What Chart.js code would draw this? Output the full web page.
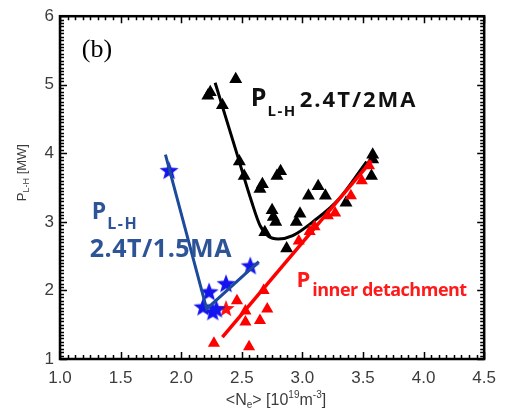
<!DOCTYPE html>
<html><head><meta charset="utf-8">
<script src="https://cdn.jsdelivr.net/npm/chart.js@4.4.1/dist/chart.umd.min.js"></script>
<style>html,body{margin:0;padding:0;background:#fff}</style>
</head><body>
<canvas id="c" width="505" height="412"></canvas>
<script>
// --- data ---
const xTicks = [1.0, 1.5, 2.0, 2.5, 3.0, 3.5, 4.0, 4.5];
const yTicks = [1, 2, 3, 4, 5, 6];

// P_L-H 2.4T/2MA (black triangles + fit)
const lh2X = [2.22,2.24,2.34,2.45,2.48,2.52,2.65,2.67,2.79,2.82,2.75,2.76,2.78,2.69,2.87,2.95,2.98,3.05,3.13,3.19,3.36,3.58,3.58,3.57];
const lh2Y = [4.84,4.89,4.70,5.08,3.88,3.67,3.48,3.55,3.67,3.74,3.17,3.07,3.00,2.85,2.61,3.00,3.12,3.38,3.52,3.38,3.28,3.98,3.91,3.67];
const lh2FitX = [2.28,2.45,2.58,2.65,2.72,2.80,2.92,3.10,3.30,3.53];
const lh2FitY = [5.03,4.05,3.30,2.95,2.79,2.75,2.80,3.02,3.33,3.88];

// P_L-H 2.4T/1.5MA (blue stars + fit)
const lh15X = [1.90,2.18,2.23,2.26,2.29,2.37,2.57];
const lh15Y = [3.74,1.75,1.97,1.68,1.72,2.09,2.35];
const lh15FitX = [1.87,2.21,2.64];
const lh15FitY = [3.98,1.73,2.42];

// P inner detachment (red triangles, red stars + fit)
const detX = [2.27,2.56,2.46,2.53,2.53,2.65,2.71,2.68,2.97,3.06,3.10,3.21,3.27,3.40,3.49,3.55];
const detY = [1.23,1.18,1.85,1.70,1.54,1.56,1.73,2.00,2.72,2.86,2.93,3.09,3.13,3.38,3.60,3.82];
const detStarX = [2.37];
const detStarY = [1.73];
const detFitX = [2.34,3.57];
const detFitY = [1.32,3.89];

const zip = (xs, ys) => xs.map((x,i)=>({x:x, y:ys[i]}));

function makeStar(r, color){
  const cv = document.createElement('canvas');
  cv.width = cv.height = 2*r+2;
  const g = cv.getContext('2d');
  g.fillStyle = color;
  g.beginPath();
  for(let i=0;i<10;i++){
    const rad = (i%2===0) ? r : r*0.42;
    const a = -Math.PI/2 + i*Math.PI/5;
    const px = r+1 + rad*Math.cos(a), py = r+1 + rad*Math.sin(a);
    i===0 ? g.moveTo(px,py) : g.lineTo(px,py);
  }
  g.closePath(); g.fill();
  return cv;
}

// draw text runs left to right (for sub/superscripts)
function rich(ctx, x, y, parts){
  let cx = x;
  parts.forEach(p=>{
    ctx.font = (p.w||'bold')+' '+p.s+'px '+(p.f||'"Open Sans"');
    ctx.fillStyle = p.c;
    ctx.letterSpacing = (p.ls||0)+'px';
    cx += (p.dx||0);
    ctx.fillText(p.t, cx, y+(p.dy||0));
    cx += ctx.measureText(p.t).width;
  });
  ctx.letterSpacing = '0px';
  return cx - x;
}
function richWidth(ctx, parts){
  let w = 0;
  parts.forEach(p=>{
    ctx.font = (p.w||'bold')+' '+p.s+'px '+(p.f||'"Open Sans"');
    ctx.letterSpacing = (p.ls||0)+'px';
    w += (p.dx||0) + ctx.measureText(p.t).width;
  });
  ctx.letterSpacing = '0px';
  return w;
}

const frame = {
  id:'frame',
  afterDraw(chart){
    const ctx = chart.ctx, a = chart.chartArea;
    const xs = chart.scales.x, ys = chart.scales.y;
    ctx.save();
    ctx.strokeStyle = '#000';
    // minor + major ticks on all four sides, pointing inward
    ctx.lineWidth = 1.5;
    ctx.beginPath();
    for(let i=0; i<=56; i++){
      const v = 1 + i*0.0625;
      const px = Math.round(xs.getPixelForValue(v))+0.5;
      const L = (i%8===0) ? 7 : 4;
      ctx.moveTo(px,a.bottom); ctx.lineTo(px,a.bottom-L);
      ctx.moveTo(px,a.top); ctx.lineTo(px,a.top+L);
    }
    for(let i=0; i<=100; i++){
      const v = 1 + i*0.05;
      const py = Math.round(ys.getPixelForValue(v))+0.5;
      const L = (i%20===0) ? 7 : 4;
      ctx.moveTo(a.left,py); ctx.lineTo(a.left+L,py);
      ctx.moveTo(a.right,py); ctx.lineTo(a.right-L,py);
    }
    ctx.stroke();
    ctx.lineWidth = 2.5;
    ctx.strokeRect(a.left, a.top, a.right-a.left, a.bottom-a.top);

    ctx.textBaseline = 'alphabetic';
    ctx.textAlign = 'left';
    // panel tag
    rich(ctx, xs.getPixelForValue(1.18), ys.getPixelForValue(5.41),
      [{t:'(b)', s:26, w:'normal', f:'"Liberation Serif"', c:'#000'}]);
    // black label
    rich(ctx, xs.getPixelForValue(2.574), ys.getPixelForValue(4.69), [
      {t:'P', s:25, c:'#111'},
      {t:'L-H', s:15, c:'#111', dy:10, ls:1.5, dx:1},
      {t:'2.4T/2MA', s:22, c:'#111', dy:1, ls:2, dx:3}
    ]);
    // blue label
    const blue = '#2c5496';
    rich(ctx, xs.getPixelForValue(1.262), ys.getPixelForValue(3.045), [
      {t:'P', s:23, c:blue},
      {t:'L-H', s:16, c:blue, dy:10, ls:1.5, dx:1}
    ]);
    rich(ctx, xs.getPixelForValue(1.246), ys.getPixelForValue(2.494), [
      {t:'2.4T/1.5MA', s:25, c:blue, ls:0.5}
    ]);
    // red label
    rich(ctx, xs.getPixelForValue(2.951), ys.getPixelForValue(2.049), [
      {t:'P', s:22, c:'#ff1a1a'},
      {t:'inner detachment', s:18, c:'#ff1a1a', dy:9, ls:-0.5, dx:2}
    ]);

    // axis titles
    const grey = '#3c3c3c';
    const sans = '"Liberation Sans"';
    const xt = [
      {t:'<N', s:16, w:'normal', f:sans, c:grey},
      {t:'e', s:10, w:'normal', f:sans, c:grey, dy:3},
      {t:'> [10', s:16, w:'normal', f:sans, c:grey},
      {t:'19', s:10, w:'normal', f:sans, c:grey, dy:-7},
      {t:'m', s:16, w:'normal', f:sans, c:grey},
      {t:'-3', s:10, w:'normal', f:sans, c:grey, dy:-7},
      {t:']', s:16, w:'normal', f:sans, c:grey}
    ];
    const xw = richWidth(ctx, xt);
    rich(ctx, 276 - xw/2, 405, xt);

    const yt = [
      {t:'P', s:13, w:'normal', f:sans, c:grey},
      {t:'L-H', s:9, w:'normal', f:sans, c:grey, dy:3},
      {t:' [MW]', s:13, w:'normal', f:sans, c:grey}
    ];
    const yw = richWidth(ctx, yt);
    ctx.translate(26, (a.top+a.bottom)/2 - 15);
    ctx.rotate(-Math.PI/2);
    rich(ctx, -yw/2, 0, yt);
    ctx.restore();
  }
};

const blueStar = makeStar(10, '#1414f0');
const redStar = makeStar(9, '#ff1010');

new Chart(document.getElementById('c'), {
  type:'scatter',
  data:{datasets:[
    {data:zip(lh15FitX,lh15FitY), showLine:true, borderColor:'#1c4a9c', borderWidth:3, pointRadius:0, tension:0},
    {data:zip(lh15X,lh15Y), pointStyle:blueStar, pointRadius:10},
    {data:zip(detX,detY), pointStyle:'triangle', pointRadius:7, backgroundColor:'#ff0000', borderColor:'#ff0000', borderWidth:0},
    {data:zip(detStarX,detStarY), pointStyle:redStar, pointRadius:9},
    {data:zip(detFitX,detFitY), showLine:true, borderColor:'#ff0000', borderWidth:3.5, pointRadius:0, tension:0},
    {data:zip(lh2X,lh2Y), pointStyle:'triangle', pointRadius:7.5, backgroundColor:'#000', borderColor:'#000', borderWidth:0},
    {data:zip(lh2FitX,lh2FitY), showLine:true, borderColor:'#000', borderWidth:3, pointRadius:0, cubicInterpolationMode:'monotone'}
  ]},
  options:{
    responsive:false, animation:false, devicePixelRatio:1,
    layout:{padding:{top:11, right:18, left:0, bottom:0}},
    plugins:{legend:{display:false}, tooltip:{enabled:false}},
    scales:{
      x:{type:'linear', min:1, max:4.5,
        afterBuildTicks:s=>{ s.ticks = xTicks.map(v=>({value:v})); },
        afterFit:s=>{ s.height = 53; },
        grid:{display:false, drawTicks:false}, border:{display:false},
        ticks:{padding:9, color:'#3c3c3c', font:{family:'"Liberation Sans"', size:17}, callback:v=>v.toFixed(1)}},
      y:{type:'linear', min:1, max:6,
        afterBuildTicks:s=>{ s.ticks = yTicks.map(v=>({value:v})); },
        afterFit:s=>{ s.width = 60; },
        grid:{display:false, drawTicks:false}, border:{display:false},
        ticks:{padding:6, color:'#3c3c3c', font:{family:'"Liberation Sans"', size:17}, callback:v=>String(v)}}
    }
  },
  plugins:[frame]
});
</script>
</body></html>
